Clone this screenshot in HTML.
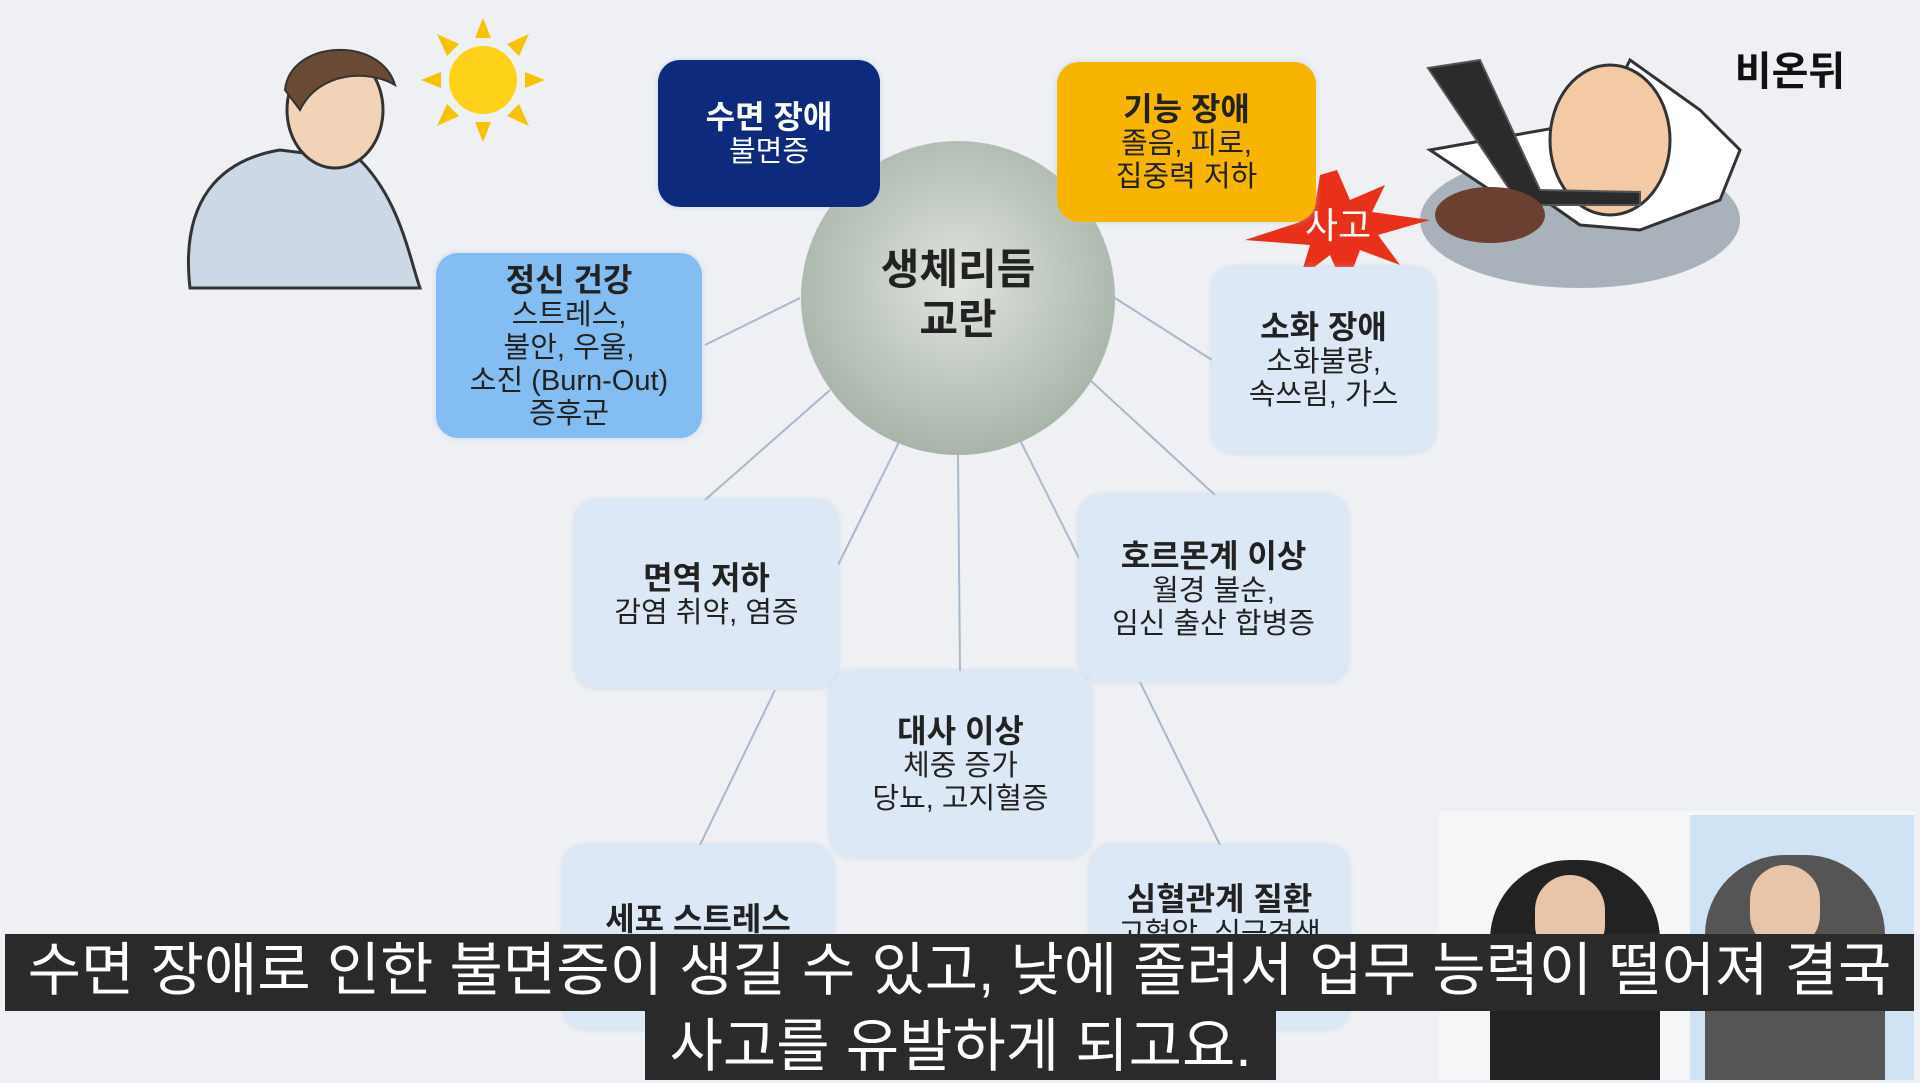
<!DOCTYPE html>
<html><head><meta charset="utf-8"><style>
body{margin:0;width:1920px;height:1080px;overflow:hidden;background:#eef0f4;font-family:"Liberation Sans","Noto Sans CJK KR",sans-serif;position:relative}
.b{position:absolute;border-radius:22px;display:flex;flex-direction:column;align-items:center;justify-content:center;text-align:center;color:#222;font-size:29px;line-height:33px;background:#dde8f6;box-shadow:0 0 6px rgba(180,200,225,.6)}
.b b{font-size:32px;line-height:38px;font-weight:bold}
.sub{position:absolute;background:#2a2a2a;color:#fff;font-size:58px;text-align:center;white-space:nowrap}
</style></head><body>
<svg width="1920" height="1080" style="position:absolute;left:0;top:0">
<defs><radialGradient id="g" cx="50%" cy="45%" r="55%"><stop offset="0" stop-color="#dfe4dc"/><stop offset="1" stop-color="#a8b4aa"/></radialGradient></defs>
<g stroke="#a8b8cc" stroke-width="2">
<line x1="800" y1="298" x2="705" y2="345"/><line x1="1115" y1="298" x2="1212" y2="360"/>
<line x1="830" y1="390" x2="705" y2="500"/><line x1="900" y1="440" x2="838" y2="565"/>
<line x1="958" y1="455" x2="960" y2="671"/><line x1="1020" y1="440" x2="1080" y2="560"/>
<line x1="1090" y1="380" x2="1215" y2="495"/><line x1="775" y1="690" x2="700" y2="845"/>
<line x1="1140" y1="682" x2="1220" y2="845"/>
</g>
<circle cx="958" cy="298" r="157" fill="url(#g)"/>
<g transform="translate(483,80)" fill="#f5c400"><circle r="34" fill="#ffd21a"/>
<g><polygon points="-8,-42 8,-42 0,-62"/><polygon points="-8,42 8,42 0,62"/><polygon points="-42,-8 -42,8 -62,0"/><polygon points="42,-8 42,8 62,0"/>
<polygon points="24,-36 36,-24 46,-46"/><polygon points="-24,-36 -36,-24 -46,-46"/><polygon points="24,36 36,24 46,46"/><polygon points="-24,36 -36,24 -46,46"/></g></g>
<path d="M190,288 C180,200 220,160 280,150 L360,160 C400,200 410,260 420,288 Z" fill="#cdd8e6" stroke="#333" stroke-width="3"/>
<ellipse cx="335" cy="110" rx="48" ry="58" fill="#f3d3b8" stroke="#333" stroke-width="3"/>
<path d="M285,90 C290,40 380,35 395,85 C370,70 320,70 300,110 Z" fill="#6b4a35" stroke="#333" stroke-width="2"/>
<ellipse cx="1580" cy="220" rx="160" ry="68" fill="#a9b1ba"/>
<path d="M1430,150 L1490,190 L1530,190 L1580,225 L1640,230 L1720,200 L1740,150 L1700,110 L1630,60 L1600,120 Z" fill="#fff" stroke="#333" stroke-width="3"/>
<ellipse cx="1610" cy="140" rx="60" ry="75" fill="#f3c9a6" stroke="#333" stroke-width="3"/>
<polygon points="1428,68 1480,60 1540,190 1640,192 1640,205 1520,205" fill="#2b2b2b" stroke="#555" stroke-width="2"/>
<ellipse cx="1490" cy="215" rx="55" ry="28" fill="#6b4030"/>
<polygon fill="#e8301a" points="1337,170 1350,200 1385,185 1372,212 1430,220 1378,235 1400,265 1360,250 1345,290 1330,255 1300,278 1310,245 1245,240 1300,222 1265,195 1315,205 1320,175"/>
<text x="1338" y="238" font-size="36" fill="#fff" text-anchor="middle" font-family="Liberation Sans,Noto Sans CJK KR,sans-serif">사고</text>
<text x="1790" y="85" font-size="40" font-weight="bold" fill="#111" text-anchor="middle" font-family="Liberation Sans,Noto Sans CJK KR,sans-serif">비온뒤</text>
</svg>
<div class="b" style="left:658px;top:60px;width:222px;height:147px;background:#0e2a7c;color:#fff"><b>수면 장애</b>불면증</div>
<div class="b" style="left:1057px;top:62px;width:259px;height:160px;background:#f7b500"><b>기능 장애</b>졸음, 피로,<br>집중력 저하</div>
<div style="position:absolute;left:848px;top:245px;width:220px;text-align:center;font-size:42px;line-height:50px;font-weight:bold;color:#222">생체리듬<br>교란</div>
<div class="b" style="left:436px;top:253px;width:266px;height:185px;background:#84bdf2"><b>정신 건강</b>스트레스,<br>불안, 우울,<br>소진 (Burn-Out)<br>증후군</div>
<div class="b" style="left:1212px;top:267px;width:223px;height:186px"><b>소화 장애</b>소화불량,<br>속쓰림, 가스</div>
<div class="b" style="left:575px;top:500px;width:263px;height:188px"><b>면역 저하</b>감염 취약, 염증</div>
<div class="b" style="left:1079px;top:495px;width:269px;height:187px"><b>호르몬계 이상</b>월경 불순,<br>임신 출산 합병증</div>
<div class="b" style="left:830px;top:671px;width:261px;height:186px"><b>대사 이상</b>체중 증가<br>당뇨, 고지혈증</div>
<div class="b" style="left:563px;top:845px;width:270px;height:184px;justify-content:flex-start;padding-top:55px;box-sizing:border-box"><b>세포 스트레스</b></div>
<div class="b" style="left:1090px;top:845px;width:259px;height:184px;justify-content:flex-start;padding-top:35px;box-sizing:border-box"><b>심혈관계 질환</b>고혈압, 심근경색</div>
<div style="position:absolute;left:1439px;top:811px;width:475px;height:269px;background:#f4f6f8"></div>
<div style="position:absolute;left:1690px;top:815px;width:224px;height:265px;background:#cfe3f5"></div>
<div style="position:absolute;left:1490px;top:860px;width:170px;height:220px;background:#222;border-radius:80px 80px 0 0"></div>
<div style="position:absolute;left:1705px;top:855px;width:180px;height:225px;background:#555;border-radius:80px 80px 0 0"></div>
<div style="position:absolute;left:1535px;top:875px;width:70px;height:85px;background:#e8c4a8;border-radius:40px"></div>
<div style="position:absolute;left:1750px;top:865px;width:70px;height:85px;background:#e8c4a8;border-radius:40px"></div>
<div class="sub" style="left:5px;top:934px;width:1909px;height:77px;line-height:74px">수면 장애로 인한 불면증이 생길 수 있고, 낮에 졸려서 업무 능력이 떨어져 결국</div>
<div class="sub" style="left:645px;top:1011px;width:631px;height:69px;line-height:72px">사고를 유발하게 되고요.</div>
</body></html>
